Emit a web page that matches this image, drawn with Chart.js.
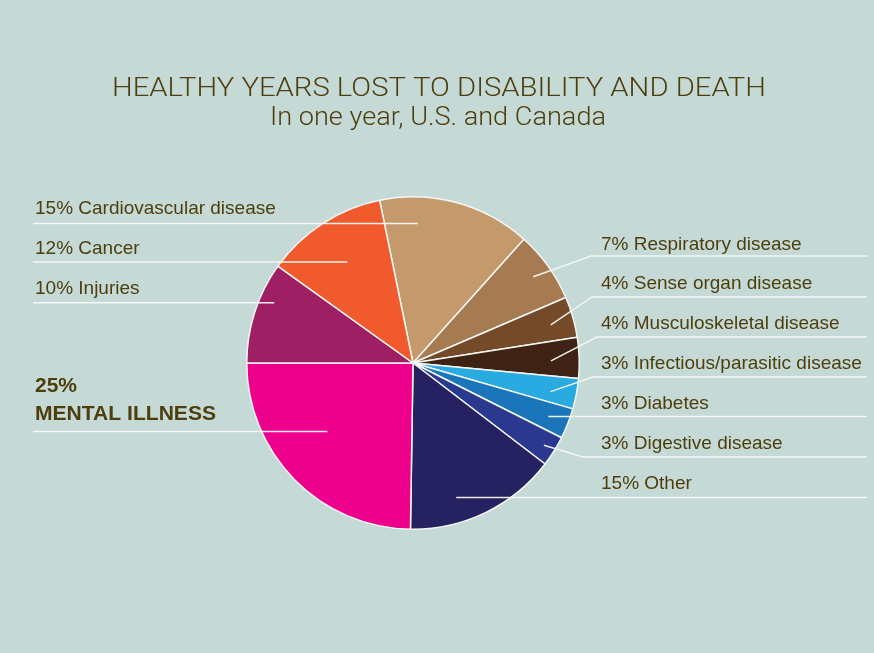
<!DOCTYPE html>
<html>
<head>
<meta charset="utf-8">
<title>Healthy years lost to disability and death</title>
<script src="https://cdn.jsdelivr.net/npm/chart.js@4.4.1/dist/chart.umd.min.js"></script>
<style>
  html, body { margin: 0; padding: 0; background: #c5d9d7; }
  #yearsLostPie { display: block; }
</style>
</head>
<body>
<canvas id="yearsLostPie" width="874" height="653"></canvas>
<script>
// Share of healthy years lost, clockwise from the cardiovascular slice
const causes = [
  "Cardiovascular disease", "Respiratory disease", "Sense organ disease",
  "Musculoskeletal disease", "Infectious/parasitic disease", "Diabetes",
  "Digestive disease", "Other", "MENTAL ILLNESS", "Injuries", "Cancer"
];
const shares = [15, 7, 4, 4, 3, 3, 3, 15, 25, 10, 12];
const sliceColors = [
  "#c49a6c", "#a77b51", "#744a28", "#3e2314", "#29abe2", "#1b75bb",
  "#2a388f", "#262262", "#ec008c", "#9e1f63", "#f15a2c"
];

// Label layout: which side, text baseline, and where the leader line sits
const labelSide = ["left", "right", "right", "right", "right", "right", "right", "right", "left", "left", "left"];
const labelBaseline = [214, 250, 289, 329, 369, 409, 449, 489, 420, 294, 254];
const anchorAlong = [0.255, 0.5, 0.54, 0.565, 0.6, 0.52, 0.51, 0.65, 0.566, 0.66, 0.5];
const anchorRadius = [0.84, 0.89, 0.86, 0.83, 0.845, 0.875, 0.93, 0.85, 0.66, 0.91, 0.725];
const elbowX = [null, 591, 592, 597, 593, null, 583, null, null, null, null];
const elbowY = [null, 256, 297, 337, 377, null, 457, null, null, null, null];

const TEXT_COLOR = "#4d3e0c";
const LEFT_TEXT_X = 35;
const RIGHT_TEXT_X = 601;
const LINE_LEFT = 33;
const LINE_RIGHT = 867;

// draw text, squeezed/stretched horizontally to a given width if asked
function fitText(ctx, text, x, y, width) {
  const w = ctx.measureText(text).width;
  const s = width ? width / w : 1;
  ctx.save();
  ctx.translate(x, y);
  ctx.scale(s, 1);
  ctx.fillText(text, 0, 0);
  ctx.restore();
}

const annotations = {
  id: "annotations",
  afterDatasetsDraw(chart) {
    const ctx = chart.ctx;
    const arcs = chart.getDatasetMeta(0).data;

    // leader lines
    ctx.save();
    ctx.strokeStyle = "rgba(245, 248, 246, 0.95)";
    ctx.lineWidth = 1.5;
    arcs.forEach((arc, i) => {
      const p = arc.getProps(["x", "y", "startAngle", "endAngle", "outerRadius"], true);
      const a = p.startAngle + anchorAlong[i] * (p.endAngle - p.startAngle);
      const ax = p.x + anchorRadius[i] * p.outerRadius * Math.cos(a);
      const ay = p.y + anchorRadius[i] * p.outerRadius * Math.sin(a);
      ctx.beginPath();
      ctx.moveTo(ax, ay);
      if (elbowX[i] !== null) {
        ctx.lineTo(elbowX[i], elbowY[i]);
        ctx.lineTo(LINE_RIGHT, elbowY[i]);
      } else {
        ctx.lineTo(labelSide[i] === "left" ? LINE_LEFT : LINE_RIGHT, ay);
      }
      ctx.stroke();
    });
    ctx.restore();

    // labels
    ctx.save();
    ctx.fillStyle = TEXT_COLOR;
    ctx.textBaseline = "alphabetic";
    ctx.textAlign = "left";
    causes.forEach((name, i) => {
      const x = labelSide[i] === "left" ? LEFT_TEXT_X : RIGHT_TEXT_X;
      if (name === "MENTAL ILLNESS") {
        ctx.font = "bold 21px 'Liberation Sans', Arial, sans-serif";
        fitText(ctx, shares[i] + "%", x, labelBaseline[i] - 28);
        fitText(ctx, name, x, labelBaseline[i], 181);
      } else {
        ctx.font = "19px 'Liberation Sans', Arial, sans-serif";
        fitText(ctx, shares[i] + "% " + name, x, labelBaseline[i]);
      }
    });

    // heading
    ctx.textAlign = "center";
    ctx.font = "300 26px Roboto, 'Liberation Sans', sans-serif";
    fitText(ctx, "HEALTHY YEARS LOST TO DISABILITY AND DEATH", 439, 96, 654);
    ctx.font = "300 26px Roboto, 'Liberation Sans', sans-serif";
    fitText(ctx, "In one year, U.S. and Canada", 438, 125, 336);
    ctx.restore();
  }
};

new Chart(document.getElementById("yearsLostPie"), {
  type: "pie",
  data: {
    labels: causes,
    datasets: [{
      data: shares,
      backgroundColor: sliceColors,
      borderColor: "#f4f6f3",
      borderWidth: 1.5
    }]
  },
  options: {
    responsive: false,
    animation: false,
    devicePixelRatio: 1,
    rotation: -11.6,
    layout: { padding: { left: 246, right: 294, top: 196, bottom: 123 } },
    plugins: {
      legend: { display: false },
      tooltip: { enabled: false },
      title: { display: false }
    }
  },
  plugins: [annotations]
});
</script>
</body>
</html>
